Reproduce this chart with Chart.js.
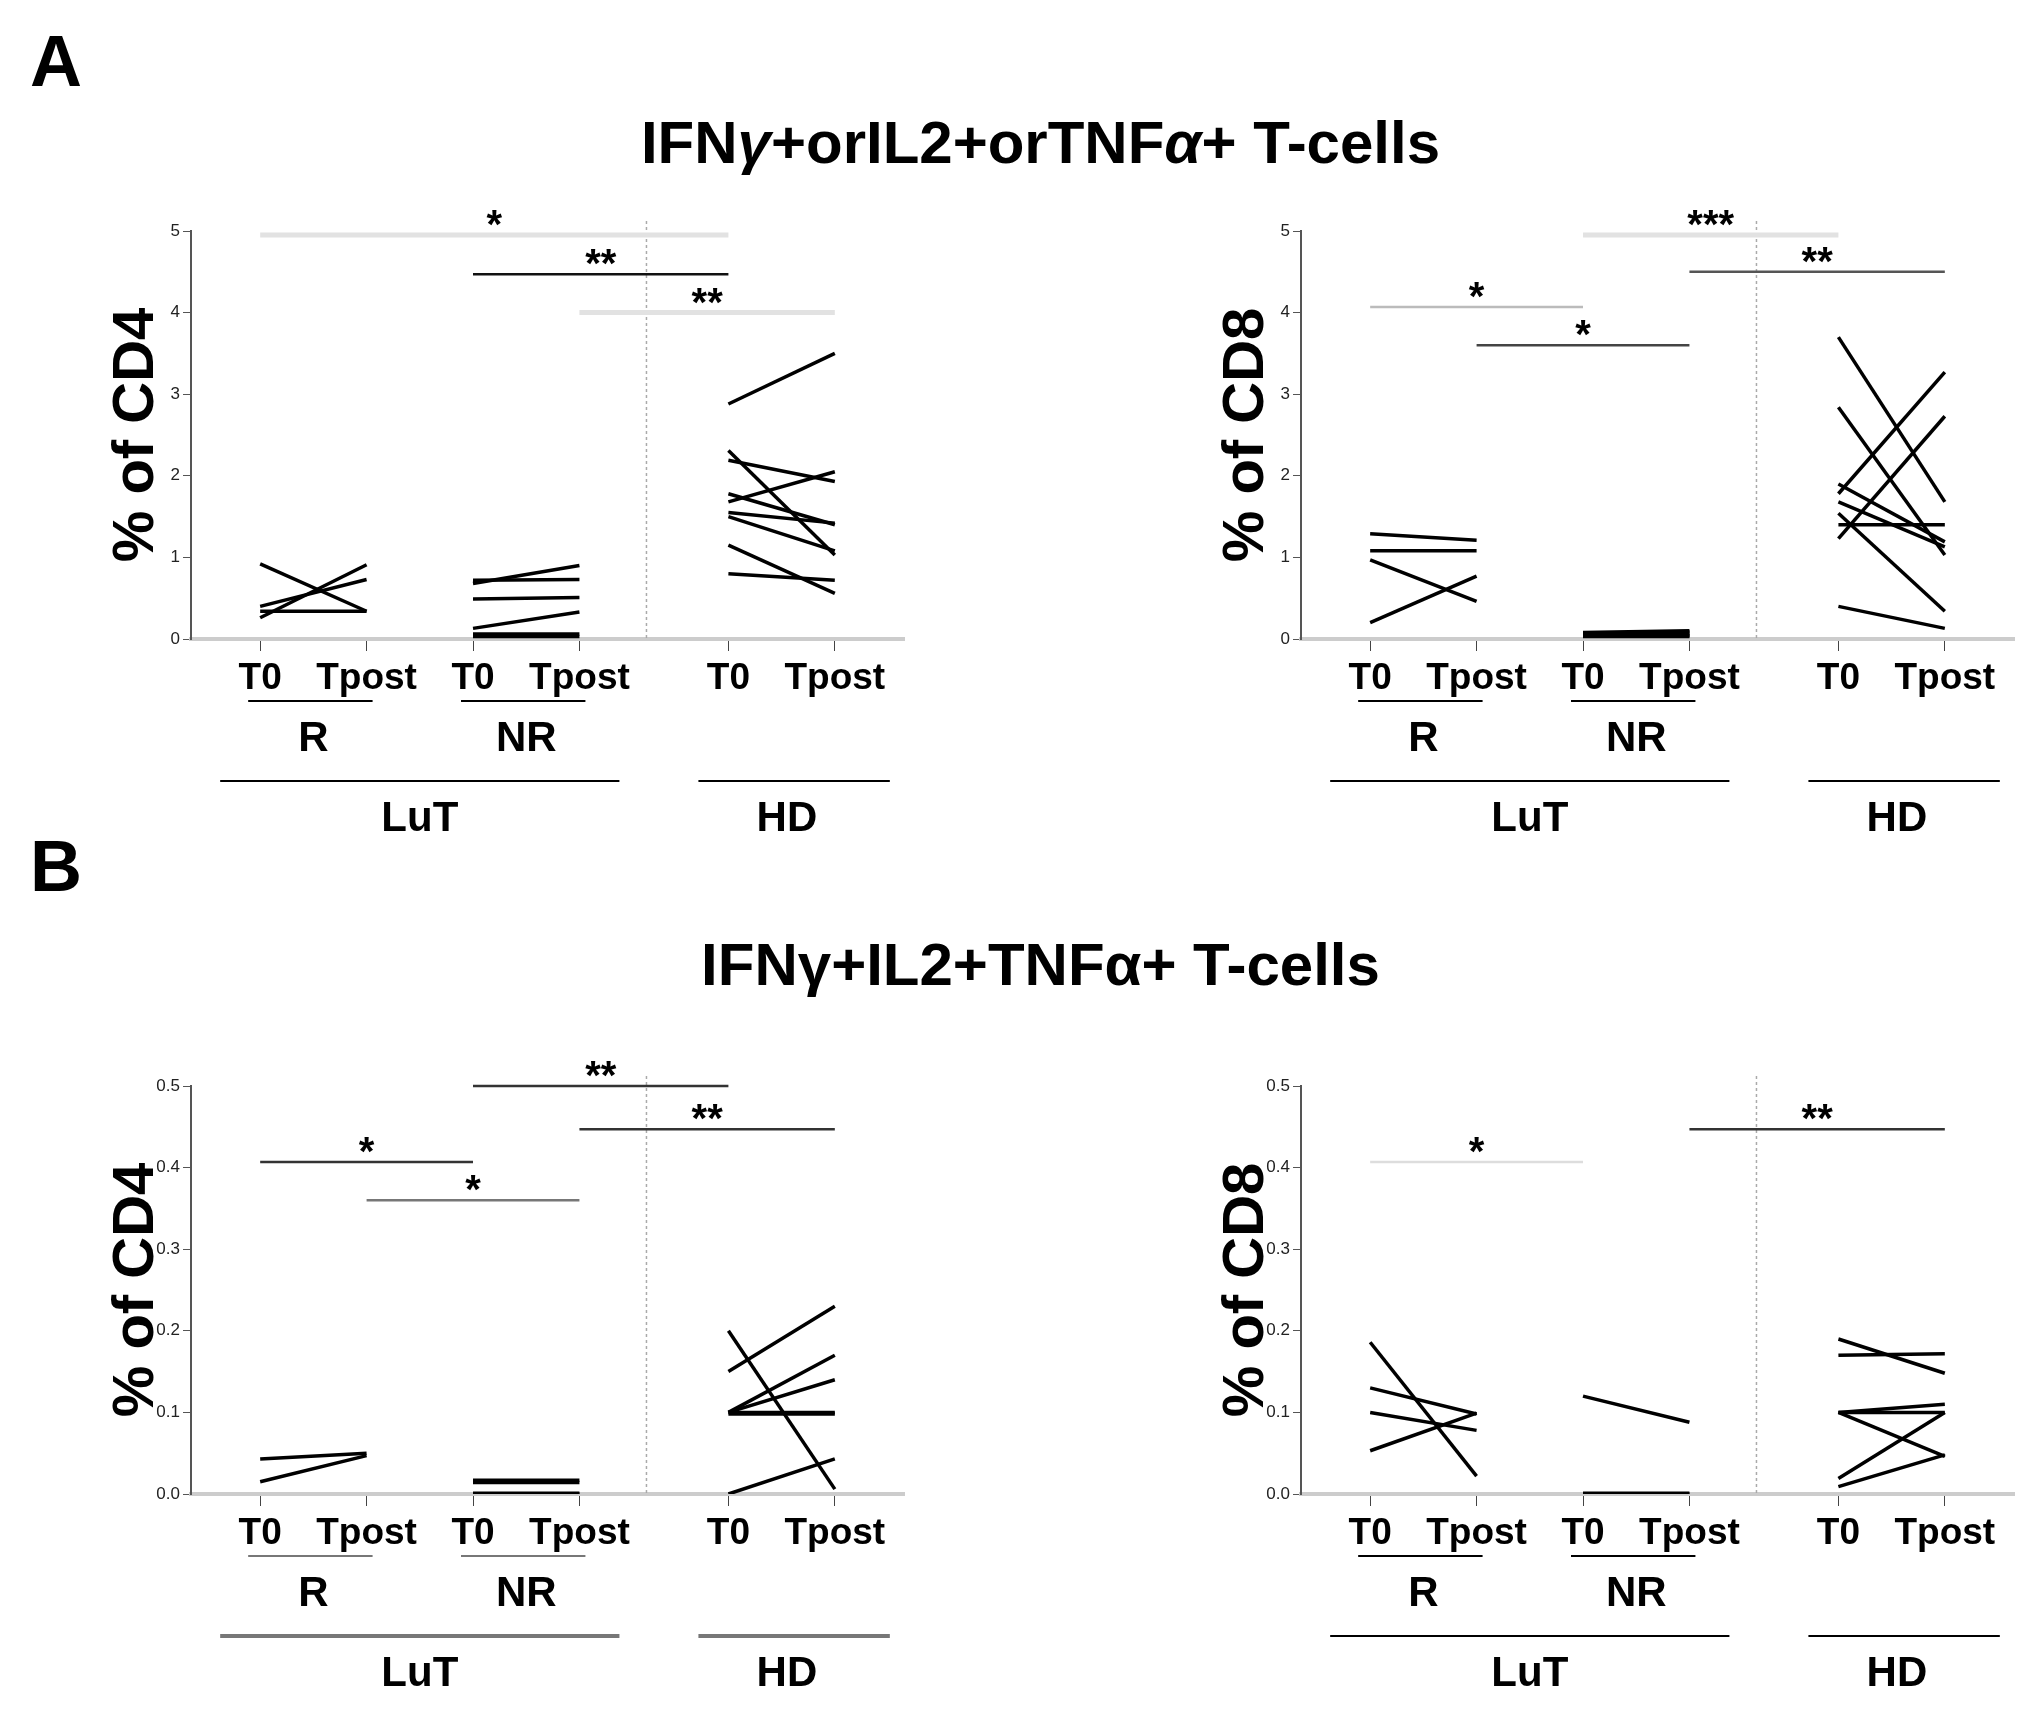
<!DOCTYPE html>
<html>
<head>
<meta charset="utf-8">
<script src="https://cdn.jsdelivr.net/npm/chart.js@4"></script>
<style>
  body { margin: 0; width: 2021px; height: 1720px; background: #fff; position: relative; font-family: "Liberation Sans", Arial, sans-serif; }
  .letter { position: absolute; font-weight: bold; font-size: 72px; }
  .title { position: absolute; width: 2021px; text-align: center; font-weight: bold; font-size: 60px; }
  canvas { position: absolute; }
</style>
</head>
<body>
<div class="letter" style="left:30px;top:20px">A</div>
<div class="title" style="left:30px;top:108px">IFN<i>γ</i>+orIL2+orTNF<i>α</i>+ T-cells</div>
<div class="letter" style="left:30px;top:825px">B</div>
<div class="title" style="left:30px;top:930px">IFNγ+IL2+TNFα+ T-cells</div>
<div style="position:absolute;left:90px;top:200px;width:870px;height:650px"><canvas id="aCd4"></canvas></div>
<div style="position:absolute;left:1200px;top:200px;width:821px;height:650px"><canvas id="aCd8"></canvas></div>
<div style="position:absolute;left:90px;top:1055px;width:870px;height:665px"><canvas id="bCd4"></canvas></div>
<div style="position:absolute;left:1200px;top:1055px;width:821px;height:665px"><canvas id="bCd8"></canvas></div>
<script>
// x positions of the six time points and their labels
const xPositions = [1, 2, 3, 4, 5.4, 6.4];
const xLabels = ['T0', 'Tpost', 'T0', 'Tpost', 'T0', 'Tpost'];
const groupDivider = 4.63;

// Panel A, % of CD4
const aCd4R_t0 = [0.92, 0.26, 0.40, 0.34];
const aCd4R_tp = [0.34, 0.91, 0.73, 0.34];
const aCd4NR_t0 = [0.68, 0.72, 0.49, 0.13, 0.06, 0.03];
const aCd4NR_tp = [0.90, 0.73, 0.51, 0.33, 0.06, 0.03];
const aCd4HD_t0 = [2.88, 2.31, 2.19, 1.78, 1.68, 1.55, 1.50, 1.15, 0.80];
const aCd4HD_tp = [3.50, 1.03, 1.93, 1.40, 2.05, 1.42, 1.08, 0.56, 0.72];
// Panel A, % of CD8
const aCd8R_t0 = [1.29, 1.08, 0.97, 0.20];
const aCd8R_tp = [1.21, 1.08, 0.46, 0.77];
const aCd8NR_t0 = [0.08, 0.07, 0.06, 0.05, 0.04, 0.03];
const aCd8NR_tp = [0.10, 0.09, 0.07, 0.05, 0.04, 0.03];
const aCd8HD_t0 = [3.70, 2.84, 1.78, 1.23, 1.90, 1.68, 1.40, 1.54, 0.40];
const aCd8HD_tp = [1.68, 1.03, 3.27, 2.73, 1.19, 1.13, 1.40, 0.34, 0.13];
// Panel B, % of CD4
const bCd4R_t0 = [0.043, 0.015];
const bCd4R_tp = [0.050, 0.047];
const bCd4NR_t0 = [0.017, 0.014, 0.001, 0.0];
const bCd4NR_tp = [0.017, 0.014, 0.001, 0.0];
const bCd4HD_t0 = [0.200, 0.150, 0.100, 0.100, 0.100, 0.098, 0.0];
const bCd4HD_tp = [0.006, 0.230, 0.170, 0.140, 0.100, 0.098, 0.043];
// Panel B, % of CD8
const bCd8R_t0 = [0.186, 0.130, 0.100, 0.053];
const bCd8R_tp = [0.022, 0.098, 0.078, 0.099];
const bCd8NR_t0 = [0.120, 0.001, 0.0];
const bCd8NR_tp = [0.088, 0.001, 0.0];
const bCd8HD_t0 = [0.190, 0.170, 0.100, 0.100, 0.100, 0.019, 0.009];
const bCd8HD_tp = [0.148, 0.172, 0.110, 0.100, 0.046, 0.100, 0.048];

// significance bars: [fromIndex, toIndex, y, stars, colour]
const aCd4Sig = [[0, 4, 4.95, '*', '#e2e2e2'], [2, 4, 4.47, '**', '#111'], [3, 5, 4.0, '**', '#e2e2e2']];
const aCd8Sig = [[2, 4, 4.95, '***', '#e2e2e2'], [3, 5, 4.5, '**', '#555'], [0, 2, 4.07, '*', '#bbb'], [1, 3, 3.6, '*', '#444']];
const bCd4Sig = [[2, 4, 0.5, '**', '#333'], [3, 5, 0.447, '**', '#333'], [0, 2, 0.407, '*', '#333'], [1, 3, 0.36, '*', '#777']];
const bCd8Sig = [[0, 2, 0.407, '*', '#ddd'], [3, 5, 0.447, '**', '#333']];

function pairs(t0, tp, i) {
    return t0.map((v, k) => ({
        data: [{ x: xPositions[i], y: v }, { x: xPositions[i + 1], y: tp[k] }],
        borderColor: '#000', borderWidth: 3.5, pointRadius: 0, fill: false
    }));
}

const decorPlugin = {
    id: 'decor',
    afterDraw(chart) {
        const ctx = chart.ctx, xs = chart.scales.x, ys = chart.scales.y, area = chart.chartArea;
        const o = chart.options.plugins.decor;
        ctx.save();
        // dotted divider
        ctx.strokeStyle = '#aaa'; ctx.lineWidth = 1.5; ctx.setLineDash([3, 3]);
        const dx = xs.getPixelForValue(groupDivider);
        ctx.beginPath(); ctx.moveTo(dx, area.top - 10); ctx.lineTo(dx, area.bottom); ctx.stroke();
        ctx.setLineDash([]);
        // significance bars
        ctx.textAlign = 'center'; ctx.textBaseline = 'bottom';
        ctx.font = 'bold 40px "Liberation Sans", Arial';
        o.sig.forEach(s => {
            const x1 = xs.getPixelForValue(xPositions[s[0]]), x2 = xs.getPixelForValue(xPositions[s[1]]);
            const y = ys.getPixelForValue(s[2]);
            ctx.strokeStyle = s[4]; ctx.lineWidth = s[4] === '#e2e2e2' ? 5 : 2.5;
            ctx.beginPath(); ctx.moveTo(x1, y); ctx.lineTo(x2, y); ctx.stroke();
            ctx.fillStyle = '#000';
            ctx.fillText(s[3], (x1 + x2) / 2, y + 12);
        });
        // group labels
        const b = area.bottom;
        const px = v => xs.getPixelForValue(v);
        ctx.strokeStyle = o.lineColor; ctx.lineWidth = 2;
        const hline = (a, c, y) => { ctx.beginPath(); ctx.moveTo(a, y); ctx.lineTo(c, y); ctx.stroke(); };
        hline(px(1) - 12, px(2) + 6, b + 62);
        hline(px(3) - 12, px(4) + 6, b + 62);
        ctx.lineWidth = o.lineColor === '#000' ? 2 : 4;
        hline(px(1) - 40, px(4) + 40, b + 142);
        hline(px(5.4) - 30, px(6.4) + 55, b + 142);
        ctx.fillStyle = '#000'; ctx.textBaseline = 'middle';
        ctx.font = 'bold 42px "Liberation Sans", Arial';
        ctx.fillText('R', px(1.5), b + 100);
        ctx.fillText('NR', px(3.5), b + 100);
        ctx.fillText('LuT', px(2.5), b + 180);
        ctx.fillText('HD', px(5.95), b + 180);
        ctx.restore();
    }
};

function drawPanel(id, groups, yMax, yStep, yTitle, sig, lineColor, padRight, xHeight) {
    const datasets = [].concat(pairs(groups[0], groups[1], 0), pairs(groups[2], groups[3], 2), pairs(groups[4], groups[5], 4));
    new Chart(document.getElementById(id), {
        type: 'line',
        data: { datasets: datasets },
        plugins: [decorPlugin],
        options: {
            responsive: true, maintainAspectRatio: false, animation: false,
            layout: { padding: { top: 31, right: padRight } },
            plugins: { legend: { display: false }, tooltip: { enabled: false }, decor: { sig: sig, lineColor: lineColor } },
            scales: {
                x: {
                    type: 'linear', min: 0.35, max: 7.05,
                    afterBuildTicks: axis => { axis.ticks = xPositions.map(v => ({ value: v })); },
                    afterFit: axis => { axis.height = xHeight; },
                    ticks: {
                        autoSkip: false, maxRotation: 0, color: '#000', padding: 6,
                        font: { size: 37, weight: 'bold', family: '"Liberation Sans Narrow", "Liberation Sans", Arial' },
                        callback: (v, i) => xLabels[i]
                    },
                    grid: { display: true, drawOnChartArea: false, tickLength: 12, color: '#444' },
                    border: { color: '#ccc', width: 4 }
                },
                y: {
                    min: 0, max: yMax,
                    afterFit: axis => { axis.width = 101; },
                    ticks: {
                        stepSize: yStep, color: '#222', padding: 3,
                        font: { size: 17, family: '"Liberation Sans Narrow", "Liberation Sans", Arial' },
                        callback: v => yStep < 1 ? v.toFixed(1) : v
                    },
                    grid: { drawOnChartArea: false, tickLength: 8, color: '#555' },
                    border: { color: '#555', width: 2 },
                    title: { display: true, text: yTitle, color: '#000', padding: 12, font: { size: 58, weight: 'bold', family: '"Liberation Sans", Arial' } }
                }
            }
        }
    });
}

drawPanel('aCd4', [aCd4R_t0, aCd4R_tp, aCd4NR_t0, aCd4NR_tp, aCd4HD_t0, aCd4HD_tp], 5, 1, '% of CD4', aCd4Sig, '#000', 56, 211);
drawPanel('aCd8', [aCd8R_t0, aCd8R_tp, aCd8NR_t0, aCd8NR_tp, aCd8HD_t0, aCd8HD_tp], 5, 1, '% of CD8', aCd8Sig, '#000', 7, 211);
drawPanel('bCd4', [bCd4R_t0, bCd4R_tp, bCd4NR_t0, bCd4NR_tp, bCd4HD_t0, bCd4HD_tp], 0.5, 0.1, '% of CD4', bCd4Sig, '#777', 56, 226);
drawPanel('bCd8', [bCd8R_t0, bCd8R_tp, bCd8NR_t0, bCd8NR_tp, bCd8HD_t0, bCd8HD_tp], 0.5, 0.1, '% of CD8', bCd8Sig, '#000', 7, 226);
</script>
</body>
</html>
